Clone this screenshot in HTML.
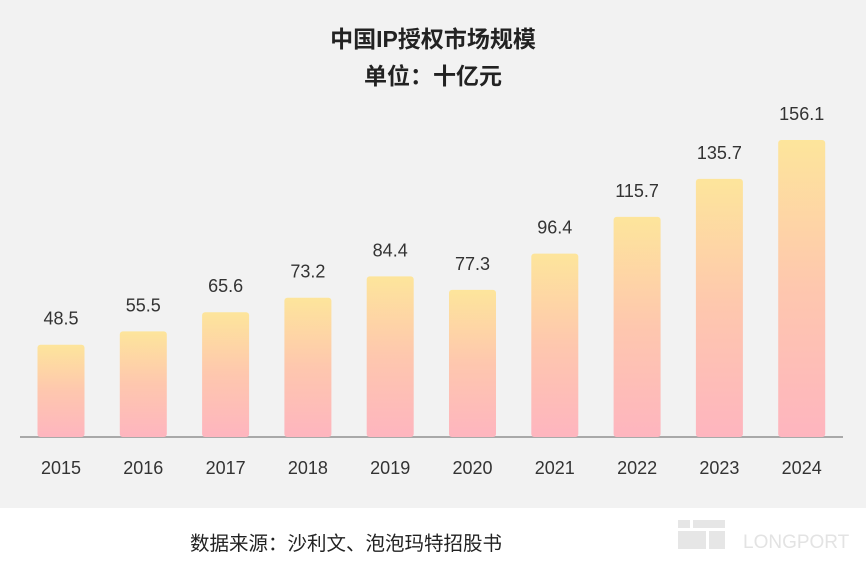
<!DOCTYPE html>
<html><head><meta charset="utf-8"><style>
body{margin:0;width:866px;height:568px;overflow:hidden;background:#fff;font-family:"Liberation Sans","Noto Sans CJK SC",sans-serif;}
#bg{position:absolute;left:0;top:0;width:866px;height:508px;background:#f2f2f2;}
svg{position:absolute;left:0;top:0;}
</style></head><body>
<div id="bg"></div>
<svg id="chart" width="866" height="568">
<defs><linearGradient id="g" x1="0" y1="0" x2="0" y2="1">
<stop offset="0" stop-color="#fde59b"/><stop offset="0.5" stop-color="#fec7ae"/><stop offset="1" stop-color="#feb5bf"/></linearGradient></defs>
<text x="433" y="47" text-anchor="middle" font-size="23" fill="#222" font-weight="bold">中国IP授权市场规模</text>
<text x="433" y="84" text-anchor="middle" font-size="23" fill="#222" font-weight="bold">单位：十亿元</text>
<line x1="20" y1="437" x2="843" y2="437" stroke="#a9a9a9" stroke-width="2"/>
<text x="190" y="550" font-size="19.5" fill="#222">数据来源：沙利文、泡泡玛特招股书</text>
<g fill="#e6e6e6">
<rect x="678" y="520" width="12" height="8"/><rect x="693" y="520" width="32" height="8"/>
<rect x="678" y="531" width="28" height="18"/><rect x="709" y="531" width="16" height="18"/>
<text x="743" y="548" font-size="19" fill="#e3e3e3">LONGPORT</text></g>
<g id="bars"></g>
</svg>
<script>
const categories=["2015","2016","2017","2018","2019","2020","2021","2022","2023","2024"];
const values=[48.5,55.5,65.6,73.2,84.4,77.3,96.4,115.7,135.7,156.1];
const valueLabels=["48.5","55.5","65.6","73.2","84.4","77.3","96.4","115.7","135.7","156.1"];
const base=437, scaleY=297/156.1;
const x0=61, step=82.3, bw=47;
function xPos(i){return x0+i*step;}
function yPos(v){return base-v*scaleY;}
const g=document.getElementById('bars');
const ns="http://www.w3.org/2000/svg";
categories.forEach((c,i)=>{
  const r=document.createElementNS(ns,'rect');
  const y=yPos(values[i]);
  r.setAttribute('x',xPos(i)-bw/2);r.setAttribute('y',y);
  r.setAttribute('width',bw);r.setAttribute('height',base-y);
  r.setAttribute('rx','3');
  r.setAttribute('fill','url(#g)');
  
  
  g.appendChild(r);
  const t=document.createElementNS(ns,'text');
  t.setAttribute('x',xPos(i));t.setAttribute('y',y-20);
  t.setAttribute('text-anchor','middle');t.setAttribute('font-size','18');t.setAttribute('fill','#333');
  t.textContent=valueLabels[i];
  
  
  g.appendChild(t);
  const l=document.createElementNS(ns,'text');
  l.setAttribute('x',xPos(i));l.setAttribute('y',474);
  l.setAttribute('text-anchor','middle');l.setAttribute('font-size','18');l.setAttribute('fill','#333');
  l.textContent=c;
  
  
  g.appendChild(l);
});
</script>
</body></html>
